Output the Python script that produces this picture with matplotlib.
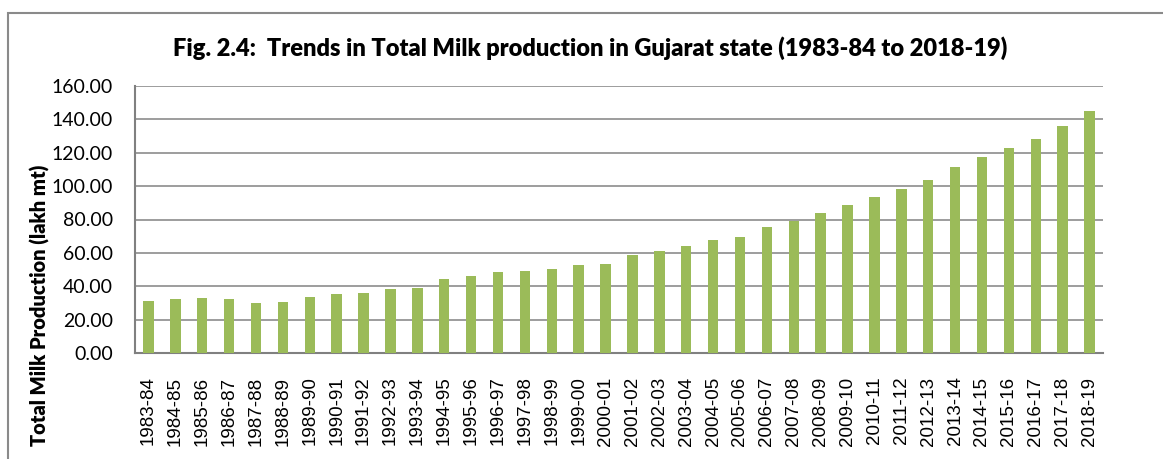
import numpy as np
import matplotlib.pyplot as plt
from matplotlib.patches import Rectangle

years = ['1983-84', '1984-85', '1985-86', '1986-87', '1987-88', '1988-89',
         '1989-90', '1990-91', '1991-92', '1992-93', '1993-94', '1994-95',
         '1995-96', '1996-97', '1997-98', '1998-99', '1999-00', '2000-01',
         '2001-02', '2002-03', '2003-04', '2004-05', '2005-06', '2006-07',
         '2007-08', '2008-09', '2009-10', '2010-11', '2011-12', '2012-13',
         '2013-14', '2014-15', '2015-16', '2016-17', '2017-18', '2018-19']
milk = [31.0, 32.4, 32.8, 32.4, 30.0, 30.6, 33.6, 35.2, 36.0, 38.2,
        39.2, 44.6, 46.2, 48.4, 49.2, 50.6, 52.6, 53.4, 58.8, 61.0,
        64.2, 67.6, 69.8, 75.6, 79.2, 84.0, 88.6, 93.4, 98.2, 103.4,
        111.6, 117.4, 123.0, 128.2, 136.0, 145.2]
yticks = [0, 20, 40, 60, 80, 100, 120, 140, 160]

fig = plt.figure(figsize=(11.63, 4.59), dpi=100)

# outer chart border (cut off at right and bottom like the screenshot)
fig.patches.append(Rectangle((8 / 1163, -0.1), 1.2, (459 - 13) / 459 + 0.1,
                             transform=fig.transFigure, fill=False,
                             edgecolor='#8a8a8a', linewidth=1.5))

ax = fig.add_axes([135 / 1163, (459 - 353) / 459, 968 / 1163, 267 / 459])
x = np.arange(len(years))
ax.bar(x, milk, width=0.39, color='#9bbb59', zorder=3)

ax.set_xlim(-0.5, len(years) - 0.5)
ax.set_ylim(0, 160)
ax.set_yticks(yticks)
ax.set_yticklabels(['%.2f' % v for v in yticks], family='Lato', fontsize=14)
ax.set_xticks(x)
ax.set_xticklabels(years, rotation=90, family='Liberation Sans', fontsize=13.5)
ax.tick_params(axis='y', length=0, pad=16)
ax.tick_params(axis='x', length=0, pad=17)
ax.grid(axis='y', color='#8c8c8c', linewidth=1.2, zorder=0)

for s in ['top', 'right']:
    ax.spines[s].set_visible(False)
for s in ['left', 'bottom']:
    ax.spines[s].set_color('#808080')
    ax.spines[s].set_linewidth(1.5)

fig.text(590 / 1163, 1 - 48 / 459,
         'Fig. 2.4:  Trends in Total Milk production in Gujarat state (1983-84 to 2018-19)',
         ha='center', va='center', family='Lato', fontweight='heavy', fontsize=17)
fig.text(40 / 1163, 1 - 305 / 459, 'Total Milk Production (lakh mt)',
         rotation=90, ha='center', va='center', family='Lato',
         fontweight='heavy', fontsize=14.5)

fig.savefig('out.png', dpi=100)
